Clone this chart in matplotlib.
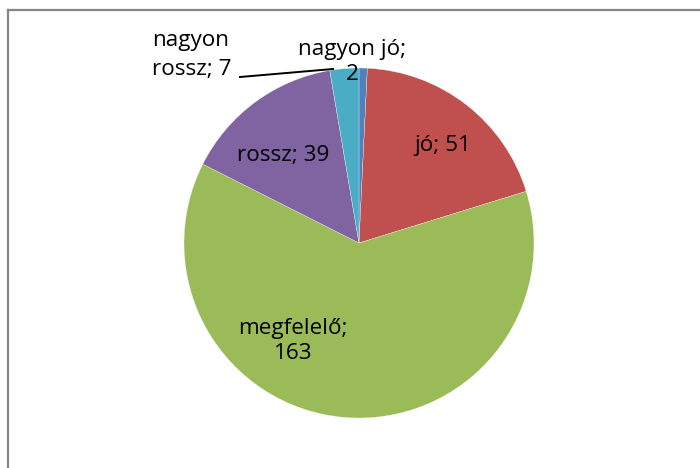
import matplotlib
matplotlib.use('Agg')
import matplotlib.pyplot as plt
from matplotlib.lines import Line2D

categories = ['nagyon jó', 'jó', 'megfelelő', 'rossz', 'nagyon rossz']
values = [2, 51, 163, 39, 7]
colors = ['#4F81BD', '#C0504D', '#9BBB59', '#8064A2', '#4BACC6']

W, H = 700, 468
fig = plt.figure(figsize=(7, 4.68), dpi=100)
ax = fig.add_axes([0, 0, 1, 1])

cx, cy, r = 359, H - 243, 175
ax.pie(values, colors=colors, startangle=90, counterclock=False,
       center=(cx, cy), radius=r, frame=True,
       wedgeprops=dict(edgecolor='white', linewidth=0.2))
ax.set_xlim(0, W)
ax.set_ylim(0, H)
ax.axis('off')

# chart border (left and top only visible)
fig.add_artist(Line2D([7.5 / W, 7.5 / W], [0, 1 - 10 / H], transform=fig.transFigure,
                      color='#868686', lw=1.6))
fig.add_artist(Line2D([7.5 / W, 1], [1 - 10 / H, 1 - 10 / H], transform=fig.transFigure,
                      color='#868686', lw=1.6))

font = dict(fontsize=16.2, family=['Open Sans', 'DejaVu Sans'], color='black')

def lab(i):
    return f'{categories[i]}; {values[i]}'

ax.text(443, H - 145, lab(1), ha='center', va='center', **font)
ax.text(293, H - 341, 'megfelelő;\n163', ha='center', va='center',
        linespacing=1.25, **font)
ax.text(283, H - 156, lab(3), ha='center', va='center', **font)
ax.text(152, H - 55, 'nagyon\nrossz; 7', ha='left', va='center',
        linespacing=1.5, **font)
ax.text(352, H - 62, 'nagyon jó;\n2', ha='center', va='center',
        linespacing=1.3, **font)

# leader line for "nagyon rossz"
ax.plot([240, 333], [H - 77, H - 69], color='black', lw=1.4)

fig.savefig('out.png', dpi=100)
